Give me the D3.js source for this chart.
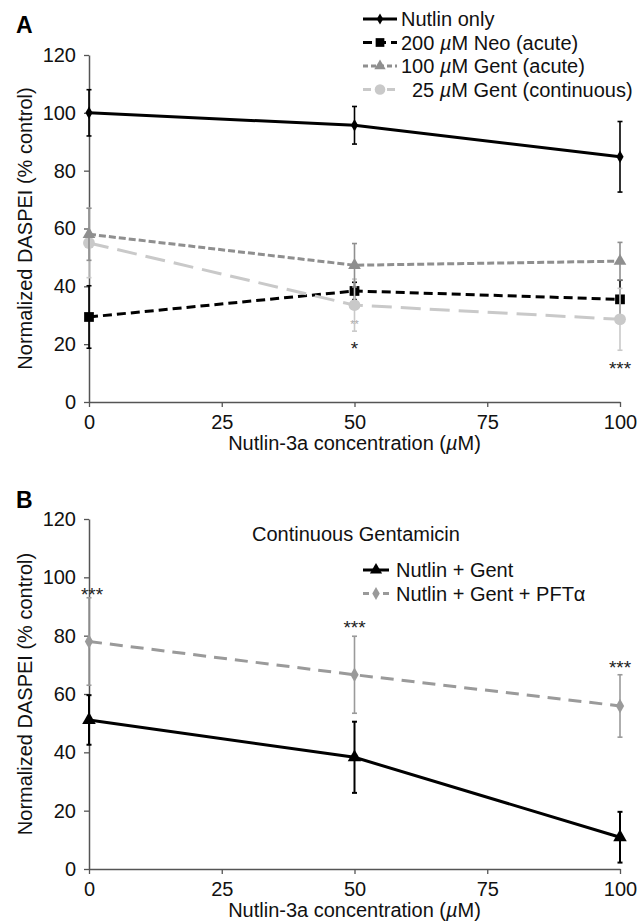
<!DOCTYPE html>
<html>
<head>
<meta charset="utf-8">
<script src="https://cdn.jsdelivr.net/npm/d3@7"></script>
<style>
  body { margin: 0; background: #fff; }
  text { font-family: "Liberation Sans", Arial, Helvetica, sans-serif; }
</style>
</head>
<body>
<script>
// x positions (Nutlin-3a, µM)
const concentrations = [0, 50, 100];
const xTicks = [0, 25, 50, 75, 100];
const yTicks = [0, 20, 40, 60, 80, 100, 120];

// Panel A series (mean, error)
const nutlinOnly = [100, 95.7, 84.8];
const nutlinOnlyErr = [8, 6.5, 12.2];
const neoAcute = [29.4, 38.4, 35.5];
const neoAcuteErr = [10.8, 3, 6.6];
const gentAcute = [58, 47.3, 48.7];
const gentAcuteErr = [9, 7.5, 6.5];
const gentCont = [55, 33.5, 28.6];
const gentContErr = [12, 9, 10.7];

// Panel B series
const nutlinGent = [51.1, 38.3, 10.9];
const nutlinGentErr = [8.5, 12.2, 8.7];
const nutlinGentPft = [78, 66.6, 55.9];
const nutlinGentPftErr = [15, 13.2, 10.7];

// significance marks: [x, y value, text]
const starsA = [[50, 20, "*"], [100, 13, "***"]];
const starsB = [[0, 95.5, "***"], [50, 84.4, "***"], [100, 70.7, "***"]];

const W = 644, H = 924;
const svg = d3.select("body").append("svg")
    .attr("width", W)
    .attr("height", H);

const x = d3.scaleLinear().domain([0, 100]).range([89, 620]);

function drawPanel(top, bottom, series, stars, legend) {
    const y = d3.scaleLinear().domain([0, 120]).range([bottom, top]);
    const g = svg.append("g");

    // axes
    const yAxis = g.append("g")
        .attr("transform", `translate(${x(0)},0)`)
        .call(d3.axisLeft(y).tickValues(yTicks).tickSize(5).tickSizeOuter(0).tickPadding(8));
    const xAxis = g.append("g")
        .attr("transform", `translate(0,${bottom})`)
        .call(d3.axisBottom(x).tickValues(xTicks).tickSize(5).tickSizeOuter(0).tickPadding(8));
    [yAxis, xAxis].forEach(a => {
        a.select(".domain").attr("stroke", "#555").attr("stroke-width", 1.5);
        a.selectAll(".tick line").attr("stroke", "#555").attr("stroke-width", 1.3);
        a.selectAll(".tick text").attr("font-size", 20).attr("fill", "#111")
            .attr("font-family", "'Liberation Sans', Arial, sans-serif");
    });

    g.append("text")
        .attr("x", (x(0) + x(100)) / 2)
        .attr("y", bottom + 48)
        .attr("text-anchor", "middle")
        .attr("font-size", 20)
        .attr("fill", "#111")
        .html("Nutlin-3a concentration (<tspan font-style='italic'>µ</tspan>M)");

    g.append("text")
        .attr("transform", `translate(32,${(top + bottom) / 2}) rotate(-90)`)
        .attr("text-anchor", "middle")
        .attr("font-size", 20)
        .attr("fill", "#111")
        .text("Normalized DASPEI (% control)");

    // series
    series.forEach(s => {
        const pts = concentrations.map((c, i) => ({ c, v: s.values[i], e: s.errors[i] }));

        // error bars
        const eb = g.append("g").attr("stroke", s.color).attr("stroke-width", s.ebWidth || 1.6);
        pts.forEach(p => {
            const cx = x(p.c);
            eb.append("line").attr("x1", cx).attr("x2", cx)
                .attr("y1", y(p.v - p.e)).attr("y2", y(p.v + p.e));
            [p.v - p.e, p.v + p.e].forEach(v => {
                eb.append("line").attr("x1", cx - 2.5).attr("x2", cx + 2.5)
                    .attr("y1", y(v)).attr("y2", y(v));
            });
        });

        g.append("path")
            .datum(pts)
            .attr("fill", "none")
            .attr("stroke", s.color)
            .attr("stroke-width", s.width)
            .attr("stroke-dasharray", s.dash)
            .attr("d", d3.line().x(d => x(d.c)).y(d => y(d.v)));

        g.selectAll(null)
            .data(pts)
            .enter()
            .append("path")
            .attr("transform", d => `translate(${x(d.c)},${y(d.v)})`)
            .attr("d", d3.symbol().type(s.symbol).size(s.size))
            .attr("fill", s.color);
    });

    // stars
    stars.forEach(([c, v, t]) => {
        g.append("text")
            .attr("x", x(c) + (c === 0 ? 3 : 0))
            .attr("y", y(v) + 11)
            .attr("text-anchor", "middle")
            .attr("font-size", 19)
            .attr("fill", "#222")
            .text(t);
    });

    // legend
    legend.rows.forEach((s, i) => {
        const ly = legend.y + i * legend.step;
        g.append("line")
            .attr("x1", legend.x1).attr("x2", legend.x2)
            .attr("y1", ly - 7).attr("y2", ly - 7)
            .attr("stroke", s.color)
            .attr("stroke-width", s.width)
            .attr("stroke-dasharray", s.legendDash || s.dash);
        g.append("path")
            .attr("transform", `translate(${(legend.x1 + legend.x2) / 2},${ly - 7})`)
            .attr("d", d3.symbol().type(s.symbol).size(s.size * 0.8))
            .attr("fill", s.color);
        const t = g.append("text")
            .attr("x", legend.tx + (s.indent || 0))
            .attr("y", ly)
            .attr("font-size", 20)
            .attr("fill", "#111");
        if (s.unit) {
            t.append("tspan").text(s.label[0]);
            t.append("tspan").attr("font-style", "italic").text("µ");
            t.append("tspan").text(s.label[1]);
        } else {
            t.text(s.label);
        }
    });
    return { g, y };
}

// Panel A
const seriesA = [
    { values: neoAcute, errors: neoAcuteErr, color: "#000", width: 3, dash: "9,5",
      symbol: d3.symbolSquare, size: 95, unit: true, label: ["200 ", "M Neo (acute)"] },
    { values: gentCont, errors: gentContErr, color: "#c9c9c9", width: 3, dash: "20,9",
      legendDash: "8,4", symbol: d3.symbolCircle, size: 110, unit: true,
      label: ["25 ", "M Gent (continuous)"], indent: 11 },
    { values: gentAcute, errors: gentAcuteErr, color: "#8f8f8f", width: 3, dash: "7,3",
      legendDash: "5,3", symbol: d3.symbolTriangle, size: 70, unit: true,
      label: ["100 ", "M Gent (acute)"] },
    { values: nutlinOnly, errors: nutlinOnlyErr, color: "#000", width: 3, dash: null,
      symbol: d3.symbolDiamond, size: 45, label: "Nutlin only" }
];
const legendOrderA = [seriesA[3], seriesA[0], seriesA[2], seriesA[1]];

const panelA = drawPanel(55, 402, seriesA, starsA,
    { rows: legendOrderA, x1: 363, x2: 397, tx: 401, y: 26, step: 23.5 });

// faint "**" under the 50 µM point
panelA.g.append("text")
    .attr("x", x(50)).attr("y", panelA.y(27.7) + 6)
    .attr("text-anchor", "middle").attr("font-size", 11).attr("fill", "#aaa")
    .text("**");

svg.append("text").attr("x", 16).attr("y", 33)
    .attr("font-size", 23).attr("font-weight", "bold").text("A");

// Panel B
const seriesB = [
    { values: nutlinGentPft, errors: nutlinGentPftErr, color: "#9a9a9a", width: 3, dash: "13,8",
      legendDash: "6,4", symbol: d3.symbolDiamond, size: 60, label: "Nutlin + Gent + PFTα" },
    { values: nutlinGent, errors: nutlinGentErr, color: "#000", width: 3, dash: null,
      symbol: d3.symbolTriangle, size: 80, label: "Nutlin + Gent", ebWidth: 2 }
];
const panelB = drawPanel(519, 869, seriesB, starsB,
    { rows: [seriesB[1], seriesB[0]], x1: 363, x2: 389, tx: 396, y: 577, step: 23.5 });

panelB.g.append("text")
    .attr("x", 356).attr("y", 541)
    .attr("text-anchor", "middle").attr("font-size", 20).attr("fill", "#111")
    .text("Continuous Gentamicin");

svg.append("text").attr("x", 16).attr("y", 508)
    .attr("font-size", 23).attr("font-weight", "bold").text("B");
</script>
</body>
</html>
